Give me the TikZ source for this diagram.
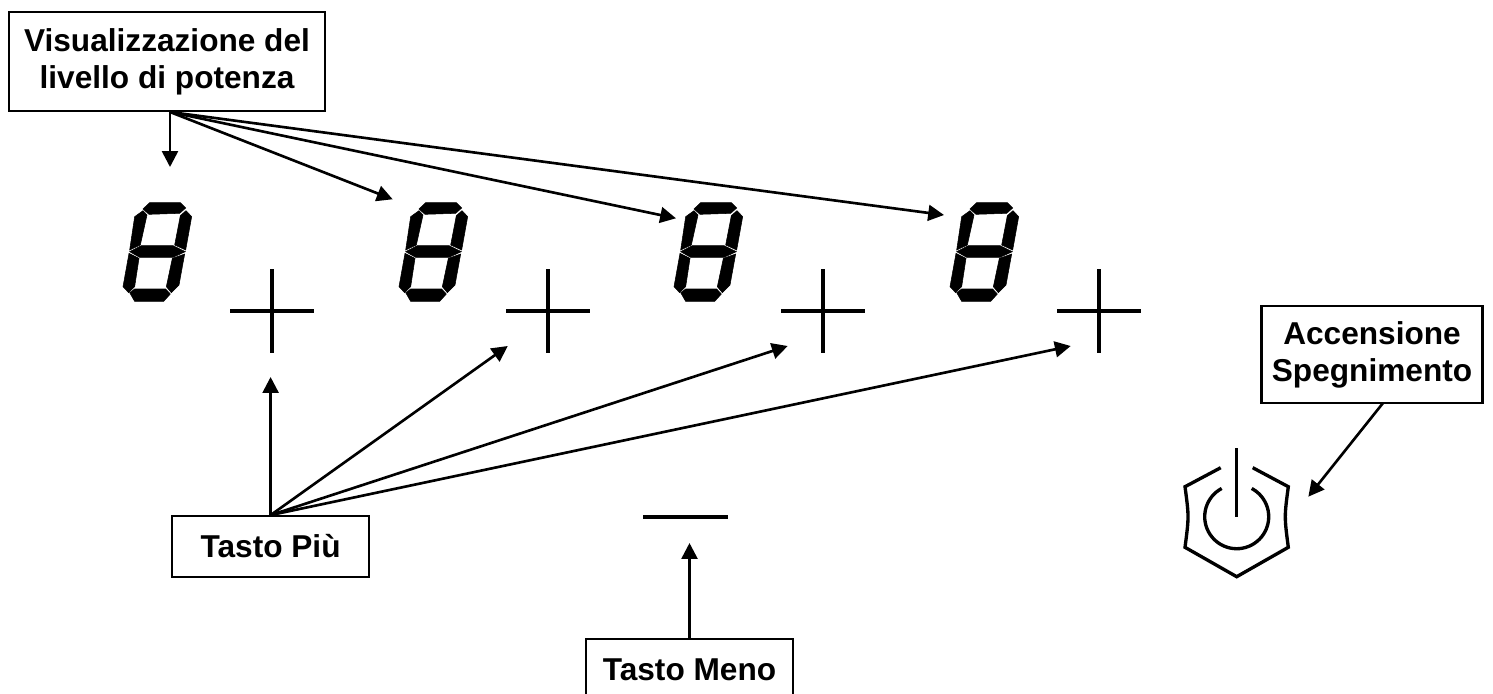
\documentclass[tikz,border=0pt]{standalone}
\usepackage{fontspec}
\setmainfont{Liberation Sans}
\usetikzlibrary{arrows.meta}
\tikzset{
  labelbox/.style={draw, line width=1.2pt, align=center, inner sep=0pt, font=\fontsize{18}{21}\selectfont\bfseries},
  callout/.style={-{Triangle[length=9pt,width=9pt]}, line width=1.5pt},
  keymark/.style={line width=2.2pt},
  powermark/.style={line width=1.9pt},
  digitseven/.pic={
    \begin{scope}[scale=1/3, shift={(-547,-423)}]
      \filldraw[line width=.3pt] (160,117) -- (180,98) -- (272,98) -- (288,114) -- (270,130) -- (178,133) -- cycle;
      \filldraw[line width=.3pt] (135,140) -- (160,122) -- (172,135) -- (152,225) -- (120,240) -- cycle;
      \filldraw[line width=.3pt] (289,122) -- (306,140) -- (288,240) -- (255,225) -- (272,137) -- cycle;
      \filldraw[line width=.3pt] (120,245) -- (155,227) -- (250,227) -- (287,245) -- (250,262) -- (150,262) -- cycle;
      \filldraw[line width=.3pt] (118,250) -- (148,265) -- (135,350) -- (117,368) -- (100,350) -- cycle;
      \filldraw[line width=.3pt] (285,252) -- (268,345) -- (245,368) -- (230,350) -- (248,265) -- cycle;
      \filldraw[line width=.3pt] (120,368) -- (135,357) -- (228,357) -- (242,372) -- (222,394) -- (135,394) -- cycle;
    \end{scope}
  }
}
\begin{document}
\begin{tikzpicture}[x=0.02cm, y=-0.02cm]
\clip (0,0) rectangle (1493,693);

\foreach \x in {272,548,823,1099} {
  \pic at (\x,311) {digitseven};
  \draw[keymark] (\x-42,311) -- (\x+42,311);
  \draw[keymark] (\x,269) -- (\x,353);
}
\draw[keymark] (643,517) -- (727.5,517);

\draw[powermark] (1236.7,448.3) -- (1236.7,516.7);
\draw[powermark] (1236.7,516.7) ++(-118:32) arc[start angle=-118, end angle=-422, radius=32];
\draw[powermark] (1220.7,467.7) -- (1185,486.7) .. controls (1189,516.7) .. (1185,547.3) -- (1236.7,576.7) -- (1288.3,547.3) .. controls (1284.3,516.7) .. (1288.3,486.7) -- (1252.7,467.7);

\node[labelbox, minimum width=6.31cm, minimum height=1.98cm] (display) at (167,61.5) {Visualizzazione del\\livello di potenza};
\node[labelbox, minimum width=3.95cm, minimum height=1.21cm] (plus) at (270.6,546.4) {Tasto Più};
\node[labelbox, minimum width=4.14cm, minimum height=1.22cm] (minus) at (689.5,669.5) {Tasto Meno};
\node[labelbox, minimum width=4.42cm, minimum height=1.93cm] (power) at (1372,354.5) {Accensione\\Spegnimento};

\coordinate (displayout) at (170,112);
\coordinate (powerout) at (1383,403);
\coordinate (digita) at (170,167);
\coordinate (digitb) at (392.7,199.3);
\coordinate (digitc) at (676,218.3);
\coordinate (digitd) at (944,215);
\coordinate (plusa) at (270.6,377);
\coordinate (plusb) at (507.7,346);
\coordinate (plusc) at (787.7,346);
\coordinate (plusd) at (1070.7,346);
\coordinate (minuskey) at (689.5,543);
\coordinate (powerkey) at (1308.3,496.7);

\foreach \t in {digita,digitb,digitc,digitd} {
  \draw[callout] (displayout) -- (\t);
}
\foreach \t in {plusa,plusb,plusc,plusd} {
  \draw[callout] (plus.north) -- (\t);
}
\draw[callout] (minus.north) -- (minuskey);
\draw[callout] (powerout) -- (powerkey);

\end{tikzpicture}
\end{document}
